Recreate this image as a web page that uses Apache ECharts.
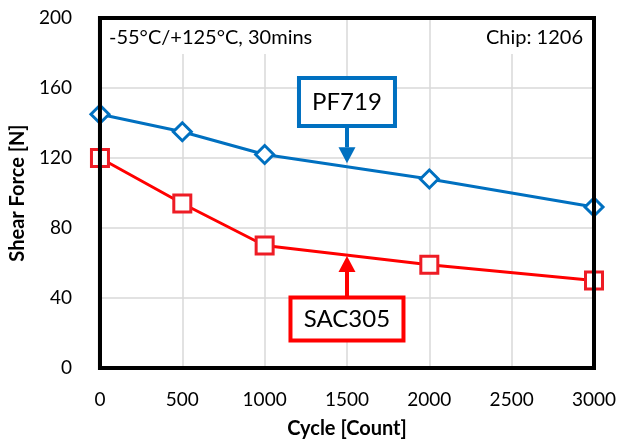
<!DOCTYPE html>
<html>
<head>
<meta charset="utf-8">
<script src="https://cdn.jsdelivr.net/npm/echarts@6/dist/echarts.min.js"></script>
<style>
  html, body { margin: 0; padding: 0; background: #fff; }
  #chart { width: 622px; height: 444px; }
</style>
</head>
<body>
<div id="chart"></div>
<script>
// data
var cycles = [0, 500, 1000, 2000, 3000];
var pf719 = [145, 135, 122, 108, 92];
var sac305 = [120, 94, 70, 59, 50];
var seriesNames = ['PF719', 'SAC305'];
// callouts: [x the arrow points at, y of arrow tip, y of box centre]
var pfCallout = [1500, 117, 152];
var sacCallout = [1500, 64, 28];

var blue = '#0070C0';
var red = '#FF0000';
var font = 'Lato, "Open Sans", sans-serif';

var chart = echarts.init(document.getElementById('chart'), null, { renderer: 'canvas' });

var option = {
    animation: false,
    backgroundColor: '#fff',
    grid: { left: 98, top: 18, right: 28, bottom: 75 },
    xAxis: {
        type: 'value',
        min: 0, max: 3000, interval: 500,
        name: 'Cycle [Count]',
        nameLocation: 'middle',
        nameGap: 51,
        nameTextStyle: { fontFamily: font, fontWeight: 'bold', fontSize: 20, color: '#000' },
        axisLine: { show: true, lineStyle: { color: '#000', width: 3 } },
        axisTick: { show: false },
        axisLabel: { margin: 22, fontFamily: font, fontSize: 19, color: '#000',
            formatter: function (v) { return String(v); } },
        splitLine: { show: true, lineStyle: { color: '#D9D9D9', width: 1.5 } }
    },
    yAxis: {
        type: 'value',
        min: 0, max: 200, interval: 40,
        name: 'Shear Force [N]',
        nameLocation: 'middle',
        nameGap: 62,
        nameTextStyle: { fontFamily: font, fontWeight: 'bold', fontSize: 20, color: '#000' },
        axisLine: { show: true, lineStyle: { color: '#000', width: 3 } },
        axisTick: { show: false },
        axisLabel: { margin: 28, fontFamily: font, fontSize: 19, color: '#000' },
        splitLine: { show: true, lineStyle: { color: '#D9D9D9', width: 1.5 } }
    },
    series: [
        {
            name: seriesNames[0],
            type: 'line',
            data: cycles.map(function (c, i) { return [c, pf719[i]]; }),
            symbol: 'diamond',
            symbolSize: 18,
            color: blue,
            lineStyle: { color: blue, width: 3 },
            itemStyle: { color: '#fff', borderColor: blue, borderWidth: 3 },
            z: 3
        },
        {
            name: seriesNames[1],
            type: 'line',
            data: cycles.map(function (c, i) { return [c, sac305[i]]; }),
            symbol: 'rect',
            symbolSize: 17,
            color: red,
            lineStyle: { color: red, width: 3 },
            itemStyle: { color: '#fff', borderColor: '#EE1C25', borderWidth: 3 },
            z: 3
        }
    ]
};
chart.setOption(option);

// annotations placed through the axes
function px(x, y) { return chart.convertToPixel({ gridIndex: 0 }, [x, y]); }

function callout(c, label, color, boxW, boxH, up) {
    var tip = px(c[0], c[1]);
    var mid = px(c[0], c[2]);
    var bx = mid[0] - boxW / 2, by = mid[1] - boxH / 2;
    var headH = 16, headW = 17;
    var edge = up ? by : by + boxH;
    var headBase = up ? tip[1] + headH : tip[1] - headH;
    return [
        { type: 'line', z: 20, shape: { x1: tip[0], y1: edge, x2: tip[0], y2: headBase },
          style: { stroke: color, lineWidth: 4 } },
        { type: 'polygon', z: 20, shape: { points: [[tip[0], tip[1]], [tip[0] - headW / 2, headBase], [tip[0] + headW / 2, headBase]] },
          style: { fill: color } },
        { type: 'rect', z: 21, shape: { x: bx, y: by, width: boxW, height: boxH },
          style: { fill: '#fff', stroke: color, lineWidth: 4 } },
        { type: 'text', z: 22, x: mid[0], y: mid[1],
          style: { text: label, fontFamily: font, fontSize: 24, fill: '#000', align: 'center', verticalAlign: 'middle' } }
    ];
}

var o = px(0, 0), e = px(3000, 200);
var graphics = [
    // white label strips over the gridlines
    { type: 'rect', z: 10, shape: { x: o[0] + 2, y: e[1] + 2, width: 224, height: 34 }, style: { fill: '#fff' } },
    { type: 'text', z: 11, x: o[0] + 9, y: e[1] + 20,
      style: { text: '-55°C/+125°C, 30mins', fontFamily: font, fontSize: 20, fill: '#000', verticalAlign: 'middle' } },
    { type: 'rect', z: 10, shape: { x: e[0] - 112, y: e[1] + 2, width: 110, height: 34 }, style: { fill: '#fff' } },
    { type: 'text', z: 11, x: e[0] - 11, y: e[1] + 20,
      style: { text: 'Chip: 1206', fontFamily: font, fontSize: 20, fill: '#000', align: 'right', verticalAlign: 'middle' } },
    // plot frame
    { type: 'rect', z: 30, shape: { x: o[0], y: e[1], width: e[0] - o[0], height: o[1] - e[1] },
      style: { fill: null, stroke: '#000', lineWidth: 4 } }
];
graphics = graphics.concat(callout(pfCallout, seriesNames[0], blue, 96, 48, false));
graphics = graphics.concat(callout(sacCallout, seriesNames[1], red, 113, 43, true));

chart.setOption({ graphic: graphics });
</script>
</body>
</html>
